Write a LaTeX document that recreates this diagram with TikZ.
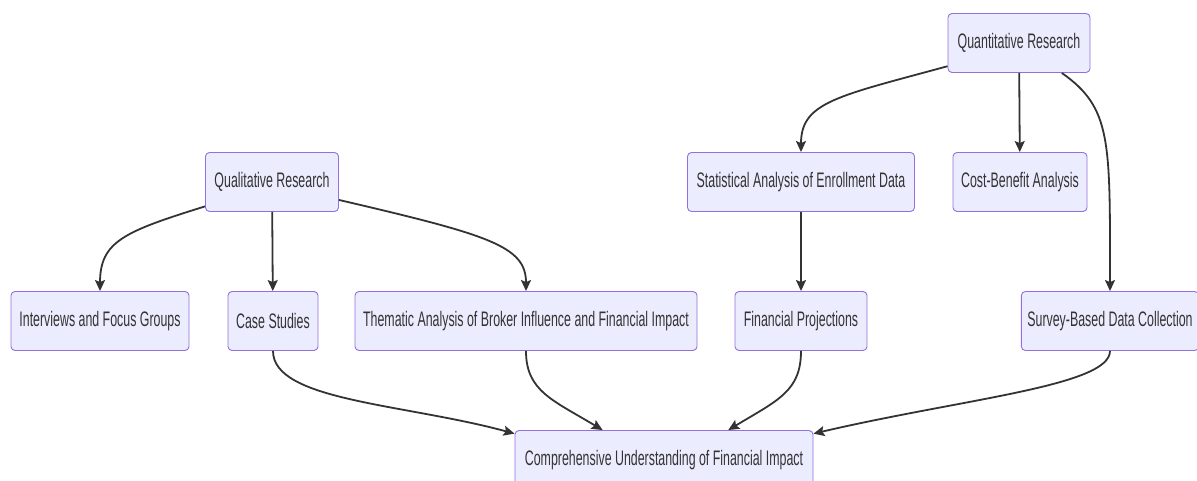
\documentclass[tikz,border=0pt]{standalone}
\usepackage{fontspec}
\usepackage{xcolor}
\usetikzlibrary{arrows.meta}
\newfontfamily\boxfont{Liberation Sans}[FakeStretch=0.59]
\definecolor{boxfill}{HTML}{ECECFF}
\definecolor{boxline}{HTML}{9370DB}
\definecolor{textgray}{HTML}{333333}

\begin{document}
\begin{tikzpicture}[x=1pt,y=-1pt,
    stepbox/.style={draw=boxline,fill=boxfill,line width=0.9pt,rounded corners=4pt,
      minimum height=59pt,inner xsep=6pt,text=textgray,font=\boxfont\fontsize{21}{25}\selectfont},
    link/.style={draw=textgray,line width=1.8pt,-{Stealth[length=11pt,width=10pt,inset=2pt]}}]
    \useasboundingbox (0,0) rectangle (1197,481);
    % top level
    \node[stepbox,minimum width=142pt] (qn) at (1019,43) {Quantitative Research};
    \node[stepbox,minimum width=133pt] (ql) at (272,182) {Qualitative Research};
    \node[stepbox,minimum width=227pt] (sa) at (801,182) {Statistical Analysis of Enrollment Data};
    \node[stepbox,minimum width=134pt] (cb) at (1020,182) {Cost-Benefit Analysis};
    % methods
    \node[stepbox,minimum width=178pt] (ifg) at (100,321) {Interviews and Focus Groups};
    \node[stepbox,minimum width=90pt] (cs) at (273,321) {Case Studies};
    \node[stepbox,minimum width=342pt] (ta) at (526,321) {Thematic Analysis of Broker Influence and Financial Impact};
    \node[stepbox,minimum width=132pt] (fp) at (801,321) {Financial Projections};
    \node[stepbox,minimum width=176pt] (sv) at (1110,321) {Survey-Based Data Collection};
    % result
    \node[stepbox,minimum width=298pt] (cu) at (664,460) {Comprehensive Understanding of Financial Impact};

    \draw[link] (qn.198) .. controls +(-110,30) and +(0,-50) .. (sa.north);
    \draw[link] (qn) -- (cb);
    \draw[link] (qn.-35) .. controls +(50,35) and +(0,-150) .. (sv.north);
    \draw[link] (ql.200) .. controls +(-80,25) and +(0,-50) .. (ifg.north);
    \draw[link] (ql) -- (cs);
    \draw[link] (ql.-15) .. controls +(150,35) and +(0,-45) .. (ta.north);
    \draw[link] (sa) -- (fp);
    \draw[link] (cs.south) .. controls +(0,50) and +(-110,-30) .. (cu.170);
    \draw[link] (ta.south) .. controls +(0,40) and +(-50,-30) .. (cu.154);
    \draw[link] (fp.south) .. controls +(0,40) and +(50,-30) .. (cu.25);
    \draw[link] (sv.south) .. controls +(0,35) and +(150,-35) .. (cu.10);
  \end{tikzpicture}
\end{document}
